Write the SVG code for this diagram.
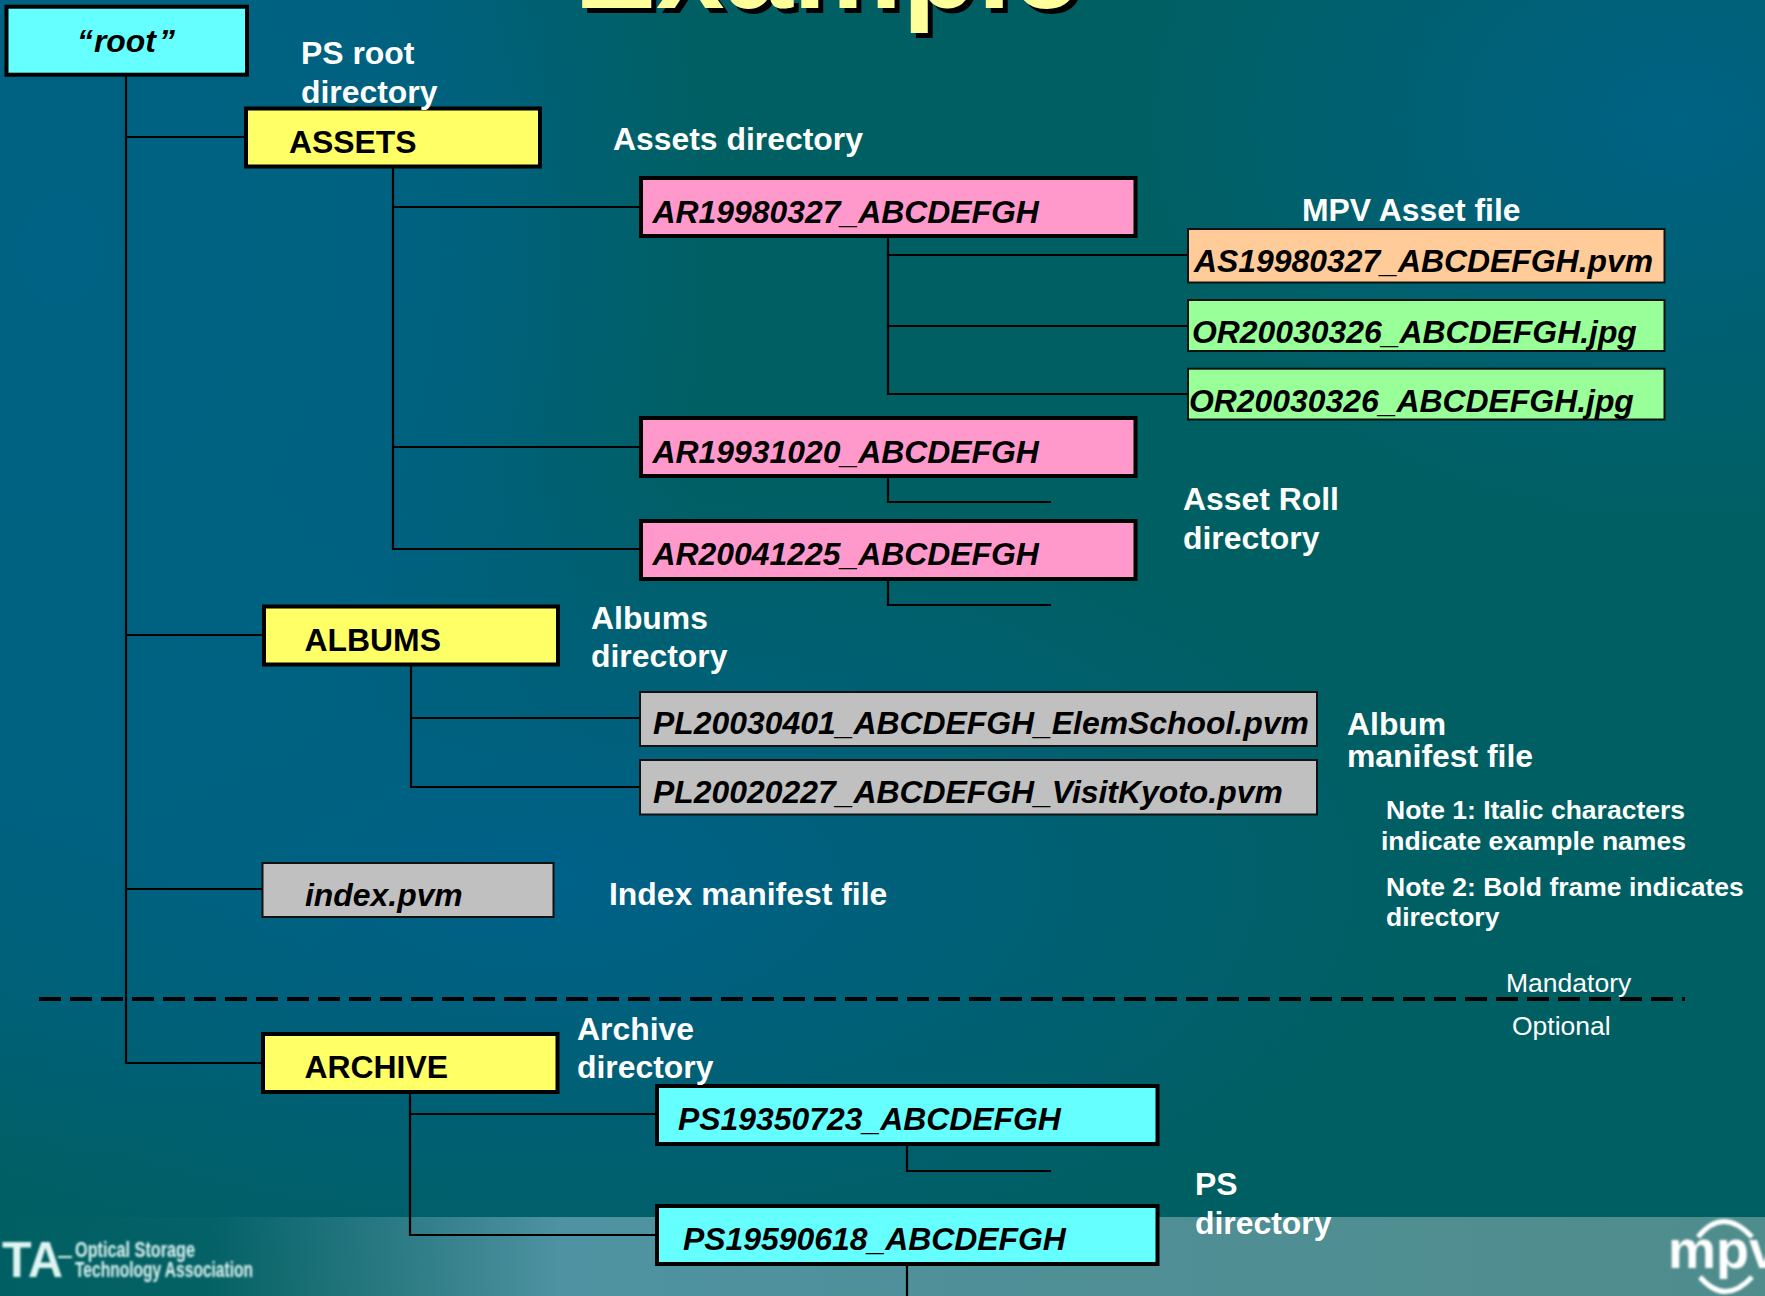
<svg xmlns="http://www.w3.org/2000/svg" width="1765" height="1296" viewBox="0 0 1765 1296">
<style>
.lab{font-family:"Liberation Sans",Arial,sans-serif;font-weight:700;font-size:31.9px;fill:#fff}
.note{font-family:"Liberation Sans",Arial,sans-serif;font-weight:700;font-size:26.5px;fill:#fff}
.reg{font-family:"Liberation Sans",Arial,sans-serif;font-size:26.5px;fill:#fff}
.nm{font-family:"Liberation Sans",Arial,sans-serif;font-weight:700;font-size:31.9px;fill:#000}
.it{font-style:italic}
.dir{stroke:#000;stroke-width:4}
.file{stroke:#111;stroke-width:2}
#connectors path{fill:none;stroke:#000;stroke-width:2.2}
</style>
<defs>
<radialGradient id="b1" cx="0" cy="0" r="1" gradientUnits="userSpaceOnUse" gradientTransform="translate(1680 120) scale(560 420)"><stop offset="0" stop-color="#006284"/><stop offset="1" stop-color="#006284" stop-opacity="0"/></radialGradient>
<radialGradient id="b2" cx="0" cy="0" r="1" gradientUnits="userSpaceOnUse" gradientTransform="translate(540 880) scale(900 420)"><stop offset="0" stop-color="#00618a"/><stop offset="1" stop-color="#00618a" stop-opacity="0"/></radialGradient>
<radialGradient id="b3" cx="0" cy="0" r="1" gradientUnits="userSpaceOnUse" gradientTransform="translate(60 250) scale(660 900)"><stop offset="0" stop-color="#006284"/><stop offset=".6" stop-color="#006284" stop-opacity=".85"/><stop offset="1" stop-color="#006284" stop-opacity="0"/></radialGradient>
<linearGradient id="foot" x1="0" x2="1" y1="0" y2="0"><stop offset="0" stop-color="#4f9098" stop-opacity="0"/><stop offset=".12" stop-color="#4f9098" stop-opacity=".05"/><stop offset=".32" stop-color="#4f93a2"/><stop offset=".6" stop-color="#4f8f96"/><stop offset="1" stop-color="#4f8c8c"/></linearGradient>
<filter id="soft" x="-5%" y="-5%" width="110%" height="110%"><feGaussianBlur stdDeviation="0.8"/></filter>
</defs>
<g id="background">
<rect width="1765" height="1296" fill="#005f62"/>
<rect width="1765" height="1296" fill="url(#b1)"/>
<rect width="1765" height="1296" fill="url(#b2)"/>
<rect width="1765" height="1296" fill="url(#b3)"/>
<rect y="1217" width="1765" height="79" fill="url(#foot)"/>
</g>
<g id="title" font-family="Liberation Sans" font-weight="700" font-size="123">
<text x="579" y="13" fill="#000">Example</text>
<text x="574" y="8" fill="#ffff99">Example</text>
</g>
<g id="connectors">
<path d="M126 75V1063H262M126 137H245M126 635H263M126 889H262"/>
<path d="M393 167V549H640M393 207H640M393 447H640"/>
<path d="M888 236V394H1187M888 255H1187M888 326H1187"/>
<path d="M888 477V502H1051"/>
<path d="M888 579V605H1051"/>
<path d="M411 665V787H639M411 718H639"/>
<path d="M410 1093V1235H656M410 1114H656"/>
<path d="M907 1145V1171H1051"/>
<path d="M907 1264V1296"/>
<path d="M39 999H1685" style="stroke-width:4;stroke-dasharray:22 9"/>
</g>
<g id="root"><rect class="dir" x="6.5" y="6.7" width="240.500" height="68" fill="#66ffff"/><text class="nm it" x="77" y="52">“<tspan dx="1">root</tspan><tspan dx="3">”</tspan></text></g>
<g id="assets"><rect class="dir" x="246" y="108.500" width="294" height="58" fill="#ffff66"/><text class="nm" x="289" y="153">ASSETS</text></g>
<g id="ar1"><rect class="dir" x="641" y="178" width="494.500" height="58" fill="#ff99cc"/><text class="nm it" x="652.500" y="223">AR19980327_ABCDEFGH</text></g>
<g id="as1"><rect class="file" x="1188" y="229" width="476.500" height="53.500" fill="#ffcc99"/><text class="nm it" x="1194" y="271.500">AS19980327_ABCDEFGH.pvm</text></g>
<g id="or1"><rect class="file" x="1188" y="300" width="476.500" height="51" fill="#99ff99"/><text class="nm it" x="1192" y="343">OR20030326_ABCDEFGH.jpg</text></g>
<g id="or2"><rect class="file" x="1188" y="368.700" width="476.500" height="50.800" fill="#99ff99"/><text class="nm it" x="1189" y="411.700">OR20030326_ABCDEFGH.jpg</text></g>
<g id="ar2"><rect class="dir" x="641" y="418" width="494.500" height="58" fill="#ff99cc"/><text class="nm it" x="652.500" y="463">AR19931020_ABCDEFGH</text></g>
<g id="ar3"><rect class="dir" x="641" y="521" width="494.500" height="58" fill="#ff99cc"/><text class="nm it" x="652.500" y="565">AR20041225_ABCDEFGH</text></g>
<g id="albums"><rect class="dir" x="264" y="606.500" width="294" height="58" fill="#ffff66"/><text class="nm" x="304.500" y="651">ALBUMS</text></g>
<g id="pl1"><rect class="file" x="640" y="692" width="677" height="54" fill="#c0c0c0"/><text class="nm it" x="653" y="734">PL20030401_ABCDEFGH_ElemSchool.pvm</text></g>
<g id="pl2"><rect class="file" x="640" y="760" width="677" height="54.500" fill="#c0c0c0"/><text class="nm it" x="653" y="803">PL20020227_ABCDEFGH_VisitKyoto.pvm</text></g>
<g id="index"><rect class="file" x="262.500" y="863" width="291" height="54" fill="#c0c0c0"/><text class="nm it" x="305" y="906">index.pvm</text></g>
<g id="archive"><rect class="dir" x="263" y="1034" width="294.500" height="58" fill="#ffff66"/><text class="nm" x="304.500" y="1078">ARCHIVE</text></g>
<g id="ps1"><rect class="dir" x="657" y="1086" width="500.500" height="58" fill="#66ffff"/><text class="nm it" x="678" y="1130">PS19350723_ABCDEFGH</text></g>
<g id="ps2"><rect class="dir" x="657" y="1206" width="500.500" height="58" fill="#66ffff"/><text class="nm it" x="683" y="1250">PS19590618_ABCDEFGH</text></g>
<g id="labels">
<text class="lab" x="301" y="64">PS root</text>
<text class="lab" x="301" y="103">directory</text>
<text class="lab" x="613" y="150">Assets directory</text>
<text class="lab" x="1302" y="221">MPV Asset file</text>
<text class="lab" x="1183" y="510">Asset Roll</text>
<text class="lab" x="1183" y="549">directory</text>
<text class="lab" x="591" y="629">Albums</text>
<text class="lab" x="591" y="667">directory</text>
<text class="lab" x="1347" y="735">Album</text>
<text class="lab" x="1347" y="767">manifest file</text>
<text class="note" x="1386" y="819">Note 1: Italic characters</text>
<text class="note" x="1381" y="850">indicate example names</text>
<text class="note" x="1386" y="896">Note 2: Bold frame indicates</text>
<text class="note" x="1386" y="926">directory</text>
<text class="lab" x="609" y="904.500">Index manifest file</text>
<text class="reg" x="1506" y="992">Mandatory</text>
<text class="reg" x="1512" y="1034.500">Optional</text>
<text class="lab" x="577" y="1039.500">Archive</text>
<text class="lab" x="577" y="1078">directory</text>
<text class="lab" x="1195" y="1195">PS</text>
<text class="lab" x="1195" y="1234">directory</text>
</g>
<g id="osta" filter="url(#soft)" font-family="Liberation Sans" fill="#dff5f2">
<text x="2" y="1277" font-size="50" font-weight="700" textLength="61" lengthAdjust="spacingAndGlyphs">TA</text>
<rect x="58" y="1256" width="14" height="2"/>
<text x="75" y="1257" font-size="22" font-weight="700" textLength="120" lengthAdjust="spacingAndGlyphs">Optical Storage</text>
<text x="75" y="1277" font-size="22" font-weight="700" textLength="178" lengthAdjust="spacingAndGlyphs">Technology Association</text>
</g>
<g id="mpv" filter="url(#soft)">
<text x="1668" y="1268" font-family="Liberation Sans" font-weight="700" font-size="54" fill="#fff">mpv</text>
<path d="M1698 1237Q1723 1206 1752 1237M1700 1277Q1725 1306 1752 1277" fill="none" stroke="#fff" stroke-width="5"/>
</g>
</svg>
